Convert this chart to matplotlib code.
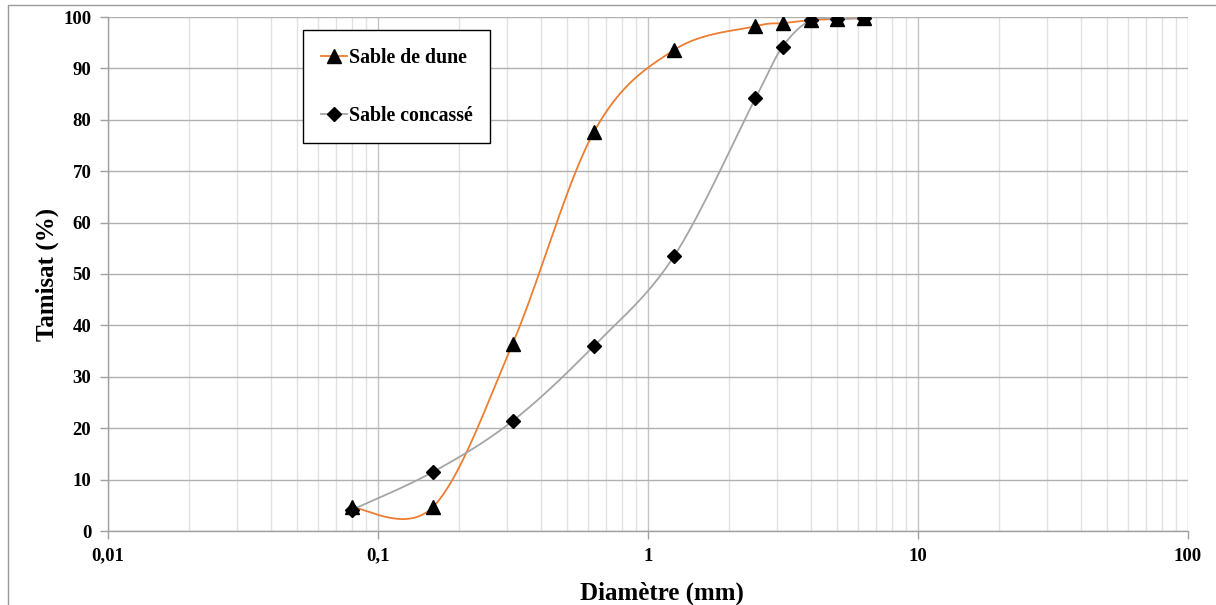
import numpy as np
import matplotlib
matplotlib.use("Agg")
import matplotlib.pyplot as plt
from matplotlib.ticker import FixedLocator, LogLocator, NullFormatter, FixedFormatter
from matplotlib.patches import Rectangle

# Sieve openings (mm) and cumulative passing (%)
diametre = [0.08, 0.16, 0.315, 0.63, 1.25, 2.5, 3.15, 4, 5, 6.3]
sable_dune = [4.6, 4.7, 36.4, 77.6, 93.6, 98.2, 98.8, 99.4, 99.6, 99.8]
sable_concasse = [4.1, 11.5, 21.4, 36.0, 53.5, 84.2, 94.2, 99.4, 99.6, 99.8]

x_ticks = [0.01, 0.1, 1, 10, 100]
x_tick_labels = ["0,01", "0,1", "1", "10", "100"]
y_ticks = list(range(0, 101, 10))

FONT = "Liberation Serif"


def smooth_curve(x, y, n=60):
    """Cardinal (Catmull-Rom) Bezier smoothing in log-x / linear-y space."""
    lx = np.log10(np.asarray(x, float))
    yy = np.asarray(y, float)
    P = np.column_stack([lx, yy])
    m = len(P)
    out = []
    t = np.linspace(0, 1, n)[:, None]
    for i in range(m - 1):
        p0 = P[i - 1] if i > 0 else P[i]
        p1 = P[i]
        p2 = P[i + 1]
        p3 = P[i + 2] if i + 2 < m else P[i + 1]
        b1 = p1 + (p2 - p0) / 6.0
        b2 = p2 - (p3 - p1) / 6.0
        seg = ((1 - t) ** 3) * p1 + 3 * ((1 - t) ** 2) * t * b1 \
            + 3 * (1 - t) * t ** 2 * b2 + t ** 3 * p2
        out.append(seg if i == 0 else seg[1:])
    c = np.vstack(out)
    return 10 ** c[:, 0], c[:, 1]


W, H = 1216, 605
fig = plt.figure(figsize=(W / 100, H / 100), dpi=100)
ax = fig.add_axes([108 / W, 1 - 531 / H, (1188 - 108) / W, (531 - 17) / H])

# outer chart frame
fig.patches.append(Rectangle((8 / W, -0.1), 1.2, (1 - 5 / H) + 0.1,
                             transform=fig.transFigure, fill=False,
                             edgecolor="#9a9a9a", linewidth=1.0))

ax.set_xscale("log")
ax.set_xlim(0.01, 100)
ax.set_ylim(0, 100)

orange = "#ED7D31"
grey = "#A5A5A5"

xs, ys = smooth_curve(diametre, sable_dune)
ax.plot(xs, ys, color=orange, lw=1.3, zorder=3)
ax.plot(diametre, sable_dune, ls="none", marker="^", ms=9.5, color="black", zorder=4)

xs, ys = smooth_curve(diametre, sable_concasse)
ax.plot(xs, ys, color=grey, lw=1.3, zorder=3)
ax.plot(diametre, sable_concasse, ls="none", marker="D", ms=7.5, color="black", zorder=4)

# legend proxies
h1, = ax.plot([], [], color=orange, lw=1.3, marker="^", ms=9.5, mfc="black", mec="black")
h2, = ax.plot([], [], color=grey, lw=1.3, marker="D", ms=7.0, mfc="black", mec="black")
leg = ax.legend([h1, h2], ["Sable de dune", "Sable concassé"],
                loc="upper left", bbox_to_anchor=(303 / W, 1 - 30 / H),
                bbox_transform=fig.transFigure, borderaxespad=0,
                frameon=True, fancybox=False,
                edgecolor="black", framealpha=1, borderpad=0.9,
                labelspacing=1.9, handlelength=1.3, handletextpad=0.1,
                prop={"family": FONT, "weight": "bold", "size": 14.3})
leg.get_frame().set_linewidth(1.0)

# grid
ax.xaxis.set_major_locator(FixedLocator(x_ticks))
ax.xaxis.set_major_formatter(FixedFormatter(x_tick_labels))
ax.xaxis.set_minor_locator(LogLocator(base=10, subs=np.arange(2, 10)))
ax.xaxis.set_minor_formatter(NullFormatter())
ax.yaxis.set_major_locator(FixedLocator(y_ticks))
ax.grid(which="major", axis="x", color="#c4c4c4", lw=1.0)
ax.grid(which="minor", axis="x", color="#e2e2e2", lw=1.0)
ax.grid(which="major", axis="y", color="#b0b0b0", lw=1.0)
ax.set_axisbelow(True)

for s in ["top", "right"]:
    ax.spines[s].set_visible(False)
for s in ["left", "bottom"]:
    ax.spines[s].set_color("#a0a0a0")
    ax.spines[s].set_linewidth(1.0)

ax.tick_params(axis="both", which="major", direction="out", length=6,
               color="#a0a0a0", width=1.0, labelsize=13.5, pad=6)
ax.tick_params(axis="x", which="minor", length=0)
for lab in ax.get_xticklabels() + ax.get_yticklabels():
    lab.set_fontfamily(FONT)
    lab.set_fontweight("bold")

ax.set_xlabel("Diamètre (mm)", fontfamily=FONT, fontweight="bold", fontsize=18, labelpad=12)
ax.xaxis.label.set_x(0.5 + 14 / 1080)
ax.set_ylabel("Tamisat (%)", fontfamily=FONT, fontweight="bold", fontsize=18, labelpad=3)

fig.savefig("out.png", dpi=100)
